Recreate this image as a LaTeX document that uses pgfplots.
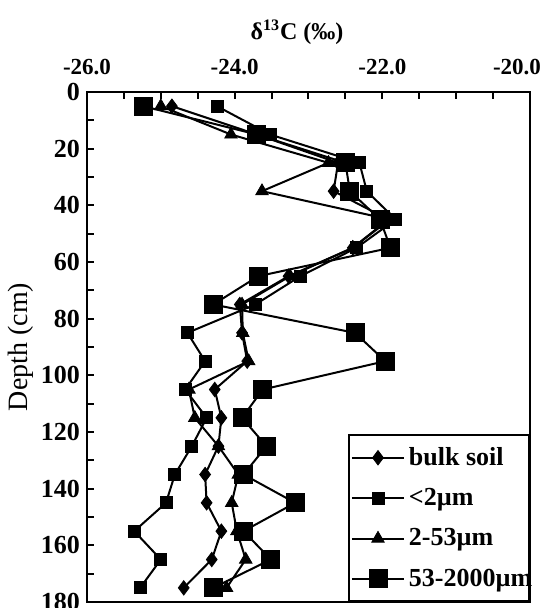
\documentclass[border=0pt]{standalone}
\usepackage{fontspec}
\setmainfont{Liberation Serif}
\usepackage{pgfplots}
\usepackage{pgfplotstable}
\pgfplotsset{compat=1.18}

% depth (cm) and delta 13C (permil) of each fraction
\pgfplotstableread{
d    bulk    fine    silt    sand
5    -24.85  -24.24  -25.00  -25.24
15   -23.70  -23.52  -24.05  -23.70
25   -22.60  -22.31  -22.73  -22.50
35   -22.66  -22.21  -23.63  -22.44
45   -21.92  -21.82  -21.90  -22.03
55   -22.40  -22.35  -22.40  -21.89
65   -23.27  -23.11  -23.25  -23.68
75   -23.93  -23.72  -23.90  -24.29
85   -23.90  -24.64  -23.89  -22.37
95   -23.83  -24.40  -23.81  -21.96
105  -24.27  -24.67  -24.62  -23.62
115  -24.18  -24.38  -24.54  -23.90
125  -24.22  -24.58  -24.22  -23.57
135  -24.40  -24.81  -23.95  -23.88
145  -24.38  -24.93  -24.04  -23.18
155  -24.18  -25.36  -23.97  -23.88
165  -24.31  -25.00  -23.85  -23.51
175  -24.69  -25.28  -24.11  -24.29
}\data

\newcommand{\legtxt}[1]{\makebox[57pt][l]{#1}}

\begin{document}
\begin{tikzpicture}
\begin{axis}[
    scale only axis,
    width=221.5pt, height=255pt,
    xmin=-26, xmax=-20,
    ymin=0, ymax=180,
    y dir=reverse,
    xtick={-26,-24,-22,-20},
    xticklabels={-26.0,-24.0,-22.0,-20.0\hspace*{13pt}},
    minor x tick num=3,
    ytick={0,20,...,180},
    yticklabels={0,20,40,60,80,100,120,140,160,180},
    minor y tick num=1,
    xtick pos=upper, xticklabel pos=upper,
    ytick pos=left,
    tick align=inside,
    major tick length=3.5pt, minor tick length=3.5pt,
    tick style={black, line width=1pt},
    axis line style={line width=1pt},
    xticklabel style={font=\fontsize{11.5}{12}\selectfont\bfseries, yshift=5pt},
    yticklabel style={font=\fontsize{13}{14}\selectfont\bfseries},
    xlabel={δ\textsuperscript{13}C (‰)},
    xlabel style={font=\fontsize{12}{14}\selectfont\bfseries,
        at={(axis description cs:0.474,1)}, anchor=center, yshift=30pt},
    ylabel={Depth (cm)},
    ylabel style={font=\fontsize{14}{16}\selectfont,
        at={(axis description cs:-0.149,0.5)}, anchor=center},
    legend style={at={(1,0)}, anchor=south east, draw=black, line width=1pt,
        font=\fontsize{13}{14}\selectfont\bfseries, row sep=6pt,
        inner xsep=1pt, inner ysep=4pt},
    legend cell align=left,
    legend image code/.code={
        \draw[mark repeat=2, mark phase=2, line width=1pt]
            plot coordinates {(0pt,0pt) (13pt,0pt) (26pt,0pt)};},
    every axis plot/.append style={black, line width=1pt,
        mark options={solid, fill=black, line width=0.4pt}},
]
\addplot[mark=diamond*, mark size=3.6pt] table[x=bulk, y=d] {\data};
\addplot[mark=square*, mark size=3pt] table[x=fine, y=d] {\data};
\addplot[mark=triangle*, mark size=3.6pt] table[x=silt, y=d] {\data};
\addplot[mark=square*, mark size=4.5pt] table[x=sand, y=d] {\data};
\legend{\legtxt{bulk soil}, \legtxt{<2µm}, \legtxt{2-53µm}, \legtxt{53-2000µm}}
\end{axis}
\pgfresetboundingbox
\path[use as bounding box] (-43.5pt,-3pt) rectangle (228.5pt,301pt);
\end{tikzpicture}
\end{document}
